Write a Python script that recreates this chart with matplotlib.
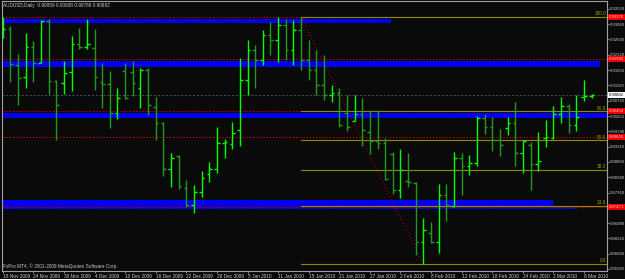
import matplotlib
matplotlib.use("Agg")
import matplotlib.pyplot as plt
import matplotlib.transforms as mtransforms
import numpy as np

plt.rcParams['font.family'] = ['Liberation Sans', 'DejaVu Sans']

# daily AUDUSD bars, one per trading day (18 Nov 2009 .. 9 Mar 2010)
opens = [0.9273, 0.9291, 0.9181, 0.9144, 0.9236, 0.9187, 0.9315, 0.9132, 0.9126, 0.9160,
         0.9245, 0.9236, 0.9233, 0.9129, 0.9123, 0.9034, 0.9163, 0.9160, 0.9111, 0.9166,
         0.9053, 0.9004, 0.8863, 0.8903, 0.8805, 0.8753, 0.8793, 0.8848, 0.8863, 0.8943,
         0.8940, 0.8982, 0.9135, 0.9227, 0.9196, 0.9273, 0.9257, 0.9303, 0.9227, 0.9288,
         0.9196, 0.9166, 0.9120, 0.9090, 0.9096, 0.9034, 0.9010, 0.9031, 0.8976, 0.8949,
         0.8943, 0.8909, 0.8799, 0.8827, 0.8821, 0.8641, 0.8668, 0.8641, 0.8784, 0.8750,
         0.8897, 0.8872, 0.8882, 0.9019, 0.8992, 0.8952, 0.8989, 0.9004, 0.8912, 0.8937,
         0.8879, 0.8958, 0.8958, 0.9031, 0.9056, 0.8998, 0.9083, 0.90859]
highs = [0.9328, 0.9300, 0.9215, 0.9279, 0.9254, 0.9318, 0.9322, 0.9135, 0.9193, 0.9270,
         0.9294, 0.9322, 0.9291, 0.9187, 0.9163, 0.9111, 0.9187, 0.9193, 0.9172, 0.9172,
         0.9083, 0.9007, 0.8912, 0.8906, 0.8830, 0.8814, 0.8857, 0.8885, 0.8992, 0.8955,
         0.9007, 0.9202, 0.9257, 0.9242, 0.9288, 0.9312, 0.9328, 0.9322, 0.9318, 0.9328,
         0.9257, 0.9227, 0.9212, 0.9120, 0.9111, 0.9090, 0.9090, 0.9080, 0.9043, 0.9043,
         0.8958, 0.8915, 0.8925, 0.8912, 0.8824, 0.8714, 0.8702, 0.8818, 0.8818, 0.8915,
         0.8912, 0.8906, 0.9026, 0.9031, 0.9022, 0.8986, 0.9022, 0.9068, 0.8952, 0.8946,
         0.8976, 0.9013, 0.9056, 0.9083, 0.9062, 0.9090, 0.9135, 0.90938]
lows = [0.9263, 0.9129, 0.9059, 0.9111, 0.9129, 0.9187, 0.9092, 0.8952, 0.9092, 0.9101,
        0.9230, 0.9230, 0.9105, 0.9050, 0.8988, 0.9016, 0.9077, 0.9086, 0.9050, 0.9028,
        0.8952, 0.8842, 0.8808, 0.8802, 0.8747, 0.8729, 0.8778, 0.8824, 0.8851, 0.8897,
        0.8925, 0.8934, 0.9090, 0.9111, 0.9181, 0.9212, 0.9190, 0.9196, 0.9181, 0.9166,
        0.9135, 0.9090, 0.9074, 0.9068, 0.8992, 0.8979, 0.9010, 0.8934, 0.8909, 0.8925,
        0.8830, 0.8787, 0.8775, 0.8808, 0.8601, 0.8573, 0.8638, 0.8607, 0.8705, 0.8747,
        0.8784, 0.8845, 0.8872, 0.8970, 0.8918, 0.8903, 0.8967, 0.8872, 0.8851, 0.8799,
        0.8857, 0.8930, 0.8955, 0.9004, 0.8973, 0.8979, 0.9071, 0.90786]
closes = [0.9291, 0.9184, 0.9141, 0.9236, 0.9187, 0.9315, 0.9132, 0.9059, 0.9156, 0.9245,
          0.9236, 0.9245, 0.9144, 0.9123, 0.9034, 0.9080, 0.9080, 0.9126, 0.9166, 0.9059,
          0.9004, 0.8863, 0.8897, 0.8811, 0.8753, 0.8793, 0.8836, 0.8863, 0.8943, 0.8945,
          0.8973, 0.9135, 0.9227, 0.9196, 0.9273, 0.9257, 0.9303, 0.9227, 0.9288, 0.9196,
          0.9166, 0.9120, 0.9090, 0.9096, 0.8998, 0.8992, 0.9031, 0.8982, 0.8949, 0.8943,
          0.8833, 0.8799, 0.8860, 0.8824, 0.8641, 0.8677, 0.8641, 0.8784, 0.8753, 0.8897,
          0.8872, 0.8882, 0.9019, 0.8992, 0.8952, 0.8937, 0.9004, 0.8912, 0.8949, 0.8879,
          0.8888, 0.8960, 0.9031, 0.9056, 0.8998, 0.9022, 0.9086, 0.90882]

date_labels = ['18 Nov 2009', '24 Nov 2009', '30 Nov 2009', '4 Dec 2009', '10 Dec 2009',
               '16 Dec 2009', '22 Dec 2009', '28 Dec 2009', '5 Jan 2010', '11 Jan 2010',
               '15 Jan 2010', '21 Jan 2010', '27 Jan 2010', '2 Feb 2010', '8 Feb 2010',
               '12 Feb 2010', '18 Feb 2010', '24 Feb 2010', '2 Mar 2010', '8 Mar 2010']
price_ticks = [0.93520, 0.93060, 0.92590, 0.92120, 0.91650, 0.91190, 0.90720, 0.90250,
               0.89780, 0.89310, 0.88850, 0.88380, 0.87910, 0.87440, 0.86980, 0.86510,
               0.86040, 0.85580]

# support / resistance zones (price bottom, price top, last bar)
zones_lo = [0.9308, 0.9175, 0.9019, 0.8740]
zones_hi = [0.9322, 0.9193, 0.9034, 0.8769]
zones_end = [50.8, 78.1, 80.0, 72.0]
hlines = [0.93276, 0.91993, 0.90404, 0.89610, 0.87471]

fib_start, fib_end = 39, 55
fib_high, fib_low = 0.93276, 0.85730
fib_levels = [100.0, 61.8, 50.0, 38.2, 23.6, 0.0]

BG = '#0a0a0a'
GRID = '#a0a0a0'
TXT = '#c8c8c8'
FS = 3.4
FS_AX = 3.05

fig = plt.figure(figsize=(6.25, 2.79), dpi=100, facecolor=BG)
ax = fig.add_axes([2 / 625, 8 / 279, 605 / 625, 270 / 279], facecolor=BG)

n = len(closes)
x = np.arange(n)

# zones
for lo, hi, end in zip(zones_lo, zones_hi, zones_end):
    ax.fill_between([-2, end], lo, hi, color='#0000f0', lw=0, zorder=1)
ax.fill_between([72, 75.1], 0.8740, 0.8748, color='#0000f0', lw=0, zorder=1)

# horizontal lines
for h in hlines:
    ax.axhline(h, color='#8b0000', lw=0.8, ls=(0, (2, 1)), zorder=2)

# fibonacci
rng = fib_high - fib_low
ax.plot([fib_start, fib_end], [fib_high, fib_low], color='#a00000', lw=0.8, ls=(0, (1, 2)), zorder=2)
for lv in fib_levels:
    p = fib_low + rng * lv / 100
    ax.plot([fib_start, 80], [p, p], color='#8c8c00', lw=0.8, zorder=2)
    ax.text(78.9, p + 0.0002, f'{lv:.1f}', color='#a0a000', fontsize=FS,
            ha='right', va='bottom', zorder=3)

# current price line
ax.axhline(closes[-1], color='#505050', lw=0.7, ls=(0, (2, 2)), zorder=2)

# ohlc bars
up = np.array(closes) >= np.array(opens)
colors = np.where(up, '#00ff00', '#1f9a1f')
ax.vlines(x, lows, highs, colors=colors, lw=1.0, zorder=4)
ax.hlines(opens, x - 0.35, x, colors=colors, lw=1.0, zorder=4)
ax.hlines(closes, x, x + 0.35, colors=colors, lw=1.0, zorder=4)

ax.set_xlim(-0.1, 79.0)
ax.set_ylim(0.85516, 0.93764)

# axes styling
for s in ax.spines.values():
    s.set_color(GRID)
    s.set_linewidth(0.8)
ax.yaxis.tick_right()
ax.set_yticks(price_ticks)
ax.set_yticklabels([f'{v:.5f}' for v in price_ticks])
ax.set_xticks(np.arange(0, 4 * len(date_labels), 4))
ax.set_xticklabels(date_labels, ha='left')
ax.tick_params(colors=GRID, labelcolor=TXT, labelsize=FS, length=1.5, width=0.6, pad=0.8)
ax.tick_params(axis='y', labelsize=FS_AX, pad=0.5)

tr = mtransforms.blended_transform_factory(ax.transAxes, ax.transData)
for h in hlines:
    ax.text(1.0035, h, f'{h:.5f}', transform=tr, color='#ffd0d0', fontsize=FS_AX, va='center',
            ha='left', bbox=dict(boxstyle='square,pad=0.2', fc='#ee0000', ec='none'),
            clip_on=False, zorder=6)
ax.text(1.0035, closes[-1], f'{closes[-1]:.5f}', transform=tr, color='black', fontsize=FS_AX,
        va='center', ha='left', bbox=dict(boxstyle='square,pad=0.2', fc='white', ec='none'),
        clip_on=False, zorder=6)

fig.text(3 / 625, 1 - 5 / 279,
         f'AUDUSD,Daily  {opens[-1]:.5f} {highs[-1]:.5f} {lows[-1]:.5f} {closes[-1]:.5f}',
         color=TXT, fontsize=FS, va='center', ha='left')
ax.text(0.002, 0.016, 'FxPro MT4, © 2001-2009 MetaQuotes Software Corp.', transform=ax.transAxes,
        color=TXT, fontsize=FS, va='center', ha='left')

fig.savefig('out.png', dpi=100, facecolor=BG)
